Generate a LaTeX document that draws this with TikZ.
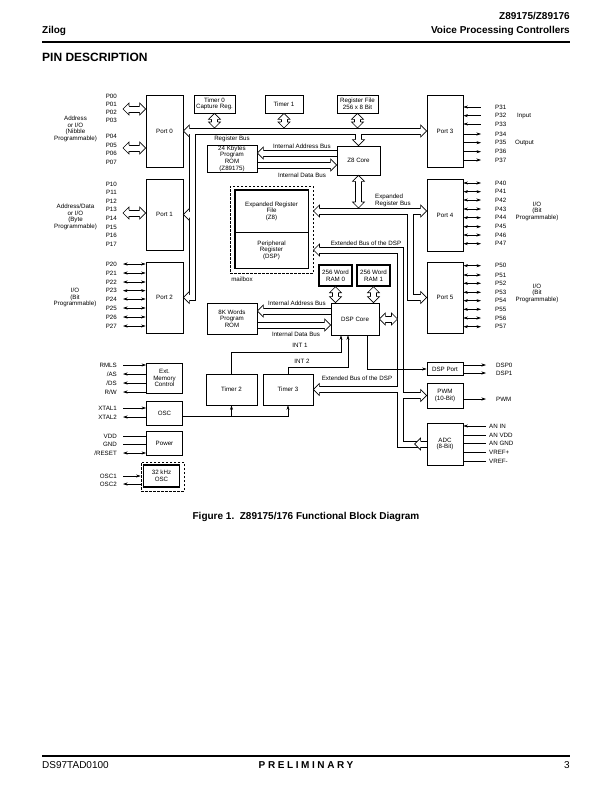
\documentclass[tikz,border=0pt]{standalone}
\usepackage{fontspec}
\setmainfont{Liberation Sans}
\usetikzlibrary{arrows.meta,calc}
\newcommand\dfont{\fontsize{6.2}{6.6}\selectfont}
\tikzset{
  every picture/.style={line join=miter, >={Stealth[length=4.5pt,width=3pt]}},
  blk/.style={draw, line width=0.8pt, align=center, inner sep=0pt, font=\dfont},
  heavyblk/.style={blk, line width=1.4pt},
  lbl/.style={inner sep=0pt, align=center, font=\dfont},
  pinlbl/.style={inner sep=0pt, font=\dfont},
  wire/.style={line width=0.5pt},
  busline/.style={line width=0.6pt},
  dashbox/.style={draw, dash pattern=on 2.5pt off 1.5pt, line width=0.9pt},
  bushead/.pic={\draw[line width=0.6pt, fill=white] (-6,3) -- (-6,6) -- (0,0) -- (-6,-6) -- (-6,-3);},
}

\begin{document}
\begin{tikzpicture}[x=1pt,y=-1pt]
\useasboundingbox (0,0) rectangle (612,792);

% page header
\node[anchor=base west, inner sep=0pt, font=\bfseries\fontsize{10}{12}\selectfont] (brand) at (42,34) {Zilog};
\node[anchor=base east, inner sep=0pt, font=\bfseries\fontsize{10}{12}\selectfont] (partno) at (570,20) {Z89175/Z89176};
\node[anchor=base east, inner sep=0pt, font=\bfseries\fontsize{10}{12}\selectfont] (series) at (570,34) {Voice Processing Controllers};
\draw[line width=2pt] (42,42) -- (570,42);
\node[anchor=base west, inner sep=0pt, font=\bfseries\fontsize{12}{14}\selectfont] (section) at (42,62) {PIN DESCRIPTION};

% blocks
\node[blk, minimum width=37pt, minimum height=72pt] (port0) at (164.5,131) {Port 0};
\node[blk, minimum width=37pt, minimum height=71pt] (port1) at (164.5,214.5) {Port 1};
\node[blk, minimum width=37pt, minimum height=71pt] (port2) at (164.5,297.5) {Port 2};
\node[blk, minimum width=36pt, minimum height=72pt] (port3) at (445,131) {Port 3};
\node[blk, minimum width=36pt, minimum height=72pt] (port4) at (445,215) {Port 4};
\node[blk, minimum width=36pt, minimum height=71pt] (port5) at (445,297.5) {Port 5};
\node[blk, minimum width=41pt, minimum height=18pt] (tmrzero) at (214.5,104) {Timer 0\\Capture Reg.};
\node[blk, minimum width=38pt, minimum height=18pt] (tmrone) at (284,104) {Timer 1};
\node[blk, minimum width=41pt, minimum height=18pt] (regfile) at (357.5,104) {Register File\\256 x 8 Bit};
\node[blk, minimum width=43pt, minimum height=29pt] (zcore) at (358.5,160.5) {Z8 Core};
\node[blk, minimum width=50pt, minimum height=27pt] (kbrom) at (232,158.5) {24 Kbytes\\Program\\ROM\\(Z89175)};
\node[lbl, minimum width=73pt, minimum height=42pt] (erf) at (271.5,211) {Expanded Register\\File\\(Z8)};
\node[lbl, minimum width=73pt, minimum height=36pt] (prf) at (271.5,250) {Peripheral\\Register\\(DSP)};
\draw[line width=1.4pt] (erf.north west) rectangle (prf.south east);
\draw[line width=0.6pt] (erf.south west) -- (erf.south east);
\node[dashbox, minimum width=83pt, minimum height=87pt] (mailbox) at (271.5,229.5) {};
\node[lbl] (mbxlbl) at (242,279) {mailbox};
\node[heavyblk, minimum width=33pt, minimum height=21pt] (ramzero) at (335.5,275.5) {256 Word\\RAM 0};
\node[heavyblk, minimum width=33pt, minimum height=21pt] (ramone) at (373.5,275.5) {256 Word\\RAM 1};
\node[blk, minimum width=48pt, minimum height=32pt] (dspcore) at (355,319) {DSP Core};
\node[blk, minimum width=50pt, minimum height=31pt] (wrom) at (232,318.5) {8K Words\\Program\\ROM};
\node[blk, minimum width=51pt, minimum height=31pt] (tmrtwo) at (231.5,389.5) {Timer 2};
\node[blk, minimum width=50pt, minimum height=31pt] (tmrthree) at (288,389.5) {Timer 3};
\node[blk, minimum width=36pt, minimum height=30pt] (extmem) at (164.5,378) {Ext.\\Memory\\Control};
\node[blk, minimum width=36pt, minimum height=24pt] (osc) at (164.5,413) {OSC};
\node[blk, minimum width=36pt, minimum height=24pt] (power) at (164.5,443) {Power};
\node[heavyblk, minimum width=36pt, minimum height=22pt] (osck) at (161.5,476) {32 kHz\\OSC};
\node[dashbox, minimum width=43pt, minimum height=29pt] (osckbox) at (162.5,476.5) {};
\node[blk, minimum width=36pt, minimum height=13pt] (dspport) at (445,369) {DSP Port};
\node[blk, minimum width=36pt, minimum height=25pt] (pwm) at (445,395.5) {PWM\\(10-Bit)};
\node[blk, minimum width=36pt, minimum height=42pt] (adc) at (445,444) {ADC\\(8-Bit)};

% bus reference points
\coordinate (rbtop) at (0,128);
\coordinate (ebtop) at (0,208);
\coordinate (iab) at (0,153);
\coordinate (idb) at (0,165);
\coordinate (dab) at (0,311);
\coordinate (ddb) at (0,325);
\coordinate (xbusl) at (397.5,0);
\coordinate (pzA) at (123,109);
\coordinate (pzB) at (123,148);
\coordinate (poA) at (123,213);
\coordinate (adctip) at ($(adc.west)+(-12,0)$);

% register bus with branches to port 1, port 2 and Z8 core
\draw[busline] (189,128) -- (421,128)
  (195,134) -- (355.5,134) -- (355.5,140)
  (361.5,140) -- (361.5,134) -- (421,134)
  (189,134) -- (189,211.5) (189,217.5) -- (189,294.5)
  (195,134) -- (195,300.5) -- (189,300.5);
% expanded register bus with branch to port 5
\draw[busline] (319,208) -- (421,208)
  (319,214) -- (407.5,214) -- (407.5,300.5) -- (421,300.5)
  (421,214) -- (413.5,214) -- (413.5,294.5) -- (421,294.5);
% extended bus of the DSP
\draw[busline] (319,253) -- (397.5,253) -- (397.5,386.5) -- (319,386.5)
  (319,392.5) -- (397.5,392.5) -- (397.5,447) -- (427,447)
  (319,247) -- (403.5,247) -- (403.5,392.5) -- (421,392.5)
  (421,398.5) -- (403.5,398.5) -- (403.5,441) -- (427,441);
% internal address and data buses
\draw[busline] (263,150) -- (337,150) (263,156) -- (337,156)
  (257,162) -- (331,162) (257,168) -- (331,168)
  (263,308) -- (331,308) (263,314) -- (331,314)
  (257,322) -- (325,322) (257,328) -- (325,328);
% short two-way bus links
\draw[busline] (211.5,119) -- (211.5,122) (217.5,119) -- (217.5,122)
  (281,119) -- (281,122) (287,119) -- (287,122)
  (354.5,119) -- (354.5,122) (360.5,119) -- (360.5,122)
  (355.5,181) -- (355.5,202) (361.5,181) -- (361.5,202)
  (332.5,292) -- (332.5,297) (338.5,292) -- (338.5,297)
  (370.5,292) -- (370.5,297) (376.5,292) -- (376.5,297)
  (385,316) -- (391.5,316) (385,322) -- (391.5,322)
  (129,106) -- (140,106) (129,112) -- (140,112)
  (129,145) -- (140,145) (129,151) -- (140,151)
  (129,210) -- (140,210) (129,216) -- (140,216);

% bus heads
\foreach \tip/\ang in {port0.east/180, port3.west/0, port1.east/180, port2.east/180,
    zcore.north/-90, port4.west |- erf/0, mailbox.east |- erf/180, mailbox.east |- prf/180,
    port5.west/0, tmrthree.east/180, pwm.west/0, adctip/180,
    kbrom.east |- iab/180, zcore.west |- idb/0, wrom.east |- dab/180, dspcore.west |- ddb/0,
    tmrzero.south/90, tmrzero.south |- rbtop/-90, tmrone.south/90, tmrone.south |- rbtop/-90,
    regfile.south/90, regfile.south |- rbtop/-90, zcore.south/90, zcore.south |- ebtop/-90,
    ramzero.south/90, ramzero.south |- dspcore.north/-90, ramone.south/90, ramone.south |- dspcore.north/-90,
    dspcore.east/180, dspcore.east -| xbusl/0,
    pzA/180, port0.west |- pzA/0, pzB/180, port0.west |- pzB/0, poA/180, port1.west |- poA/0}
  \pic[rotate=\ang] at (\tip) {bushead};

% bus labels
\node[lbl] (rbuslbl) at (232,139) {Register Bus};
\node[lbl] (iablbl) at (302,146.5) {Internal Address Bus};
\node[lbl] (idblbl) at (302,175) {Internal Data Bus};
\node[lbl, align=left, anchor=west] (erblbl) at (375,200.5) {Expanded\\Register Bus};
\node[lbl] (xbuslbl) at (366,243) {Extended Bus of the DSP};
\node[lbl] (dablbl) at (297,303.5) {Internal Address Bus};
\node[lbl] (ddblbl) at (296,334) {Internal Data Bus};
\node[lbl] (xbuslbltwo) at (357,378) {Extended Bus of the DSP};
\node[lbl] (intonelbl) at (300,345) {INT 1};
\node[lbl] (inttwolbl) at (302,361) {INT 2};

% interrupts, clock, DSP port
\coordinate (intone) at (341,352);
\coordinate (inttwo) at (348,367);
\coordinate (dspout) at (367,0);
\coordinate (clk) at (0,416);
\draw[wire,->] (tmrtwo.north) |- (intone) -- (intone |- dspcore.south);
\draw[wire,->] (tmrthree.north) |- (inttwo) -- (inttwo |- dspcore.south);
\draw[wire,->] (dspout |- dspcore.south) |- (dspport.west);
\draw[wire,->] (osc.east |- clk) -| (tmrthree.south);
\draw[wire,->] (tmrtwo.south |- clk) -- (tmrtwo.south);

% port 0 and port 1 pins
\foreach \n/\y in {00/96,01/104.3,02/112,03/120.5,04/136.7,05/145,06/153.7,07/162,
    10/184,11/192.7,12/201,13/209.7,14/218.3,15/227,16/235.7,17/244}
  \node[pinlbl, anchor=east] (pP\n) at (117,\y) {P\n};
\node[lbl] (grpzero) at (75.5,129) {Address\\or I/O\\(Nibble\\Programmable)};
\node[lbl] (grpone) at (75.5,217) {Address/Data\\or I/O\\(Byte\\Programmable)};

% port 2 pins
\foreach \n/\y in {20/264,21/273,22/282,23/290.7,24/299,25/308,26/317,27/326} {
  \node[pinlbl, anchor=east] (pP\n) at (117,\y) {P\n};
  \draw[wire,<->] ($(pP\n.east)+(6,0)$) -- (port2.west |- pP\n);
}
\node[lbl] (grptwo) at (75,297.5) {I/O\\(Bit\\Programmable)};

% port 3 pins
\foreach \n/\y in {31/107,32/115.7,33/124} {
  \node[pinlbl, anchor=west] (pP\n) at (495,\y) {P\n};
  \draw[wire,<-] (port3.east |- pP\n) -- ($(pP\n.west)+(-14,0)$);
}
\foreach \n/\y in {34/134,35/142.7,36/151.7,37/160} {
  \node[pinlbl, anchor=west] (pP\n) at (495,\y) {P\n};
  \draw[wire,->] (port3.east |- pP\n) -- ($(pP\n.west)+(-14,0)$);
}
\node[pinlbl, anchor=west] (inlbl) at (517,115.7) {Input};
\node[pinlbl, anchor=west] (outlbl) at (515,142.7) {Output};

% port 4 and port 5 pins
\foreach \n/\y in {40/183,41/191.7,42/200,43/209,44/217.7,45/226.7,46/235,47/243.7} {
  \node[pinlbl, anchor=west] (pP\n) at (495,\y) {P\n};
  \draw[wire,<->] (port4.east |- pP\n) -- ($(pP\n.west)+(-14,0)$);
}
\foreach \n/\y in {50/265.7,51/275,52/283.3,53/292.3,54/300.7,55/309.3,56/318,57/326.7} {
  \node[pinlbl, anchor=west] (pP\n) at (495,\y) {P\n};
  \draw[wire,<->] (port5.east |- pP\n) -- ($(pP\n.west)+(-14,0)$);
}
\node[lbl] (grpfour) at (537,211) {I/O\\(Bit\\Programmable)};
\node[lbl] (grpfive) at (537,293) {I/O\\(Bit\\Programmable)};

% control pins
\node[pinlbl, anchor=east] (pRMLS) at (117,365) {RMLS};
\node[pinlbl, anchor=east] (pAS) at (117,374) {/AS};
\node[pinlbl, anchor=east] (pDS) at (117,383) {/DS};
\node[pinlbl, anchor=east] (pRW) at (117,392) {R/W};
\node[pinlbl, anchor=east] (pXa) at (117,408) {XTAL1};
\node[pinlbl, anchor=east] (pXb) at (117,417) {XTAL2};
\node[pinlbl, anchor=east] (pVDD) at (117,436) {VDD};
\node[pinlbl, anchor=east] (pGND) at (117,444) {GND};
\node[pinlbl, anchor=east] (pRST) at (117,453) {/RESET};
\node[pinlbl, anchor=east] (pOa) at (117,476) {OSC1};
\node[pinlbl, anchor=east] (pOb) at (117,484) {OSC2};
\draw[wire,->] ($(pRMLS.east)+(6,0)$) -- (extmem.west |- pRMLS);
\draw[wire,<-] ($(pAS.east)+(6,0)$) -- (extmem.west |- pAS);
\draw[wire,<-] ($(pDS.east)+(6,0)$) -- (extmem.west |- pDS);
\draw[wire,<-] ($(pRW.east)+(6,0)$) -- (extmem.west |- pRW);
\draw[wire,->] ($(pXa.east)+(6,0)$) -- (osc.west |- pXa);
\draw[wire,<-] ($(pXb.east)+(6,0)$) -- (osc.west |- pXb);
\draw[wire] ($(pVDD.east)+(6,0)$) -- (power.west |- pVDD);
\draw[wire] ($(pGND.east)+(6,0)$) -- (power.west |- pGND);
\draw[wire,<->] ($(pRST.east)+(6,0)$) -- (power.west |- pRST);
\draw[wire,->] ($(pOa.east)+(6,0)$) -- (osckbox.west |- pOa);
\draw[wire,<-] ($(pOb.east)+(6,0)$) -- (osckbox.west |- pOb);

% DSP port, PWM, ADC pins
\node[pinlbl, anchor=west] (pDSPa) at (496,365) {DSP0};
\node[pinlbl, anchor=west] (pDSPb) at (496,373) {DSP1};
\node[pinlbl, anchor=west] (pPWM) at (496,399) {PWM};
\draw[wire,->] (dspport.east |- pDSPa) -- ($(pDSPa.west)+(-10,0)$);
\draw[wire,->] (dspport.east |- pDSPb) -- ($(pDSPb.west)+(-10,0)$);
\draw[wire,->] (pwm.east |- pPWM) -- ($(pPWM.west)+(-10,0)$);
\node[pinlbl, anchor=west] (pANa) at (489,426) {AN IN};
\node[pinlbl, anchor=west] (pANb) at (489,435) {AN VDD};
\node[pinlbl, anchor=west] (pANc) at (489,443) {AN GND};
\node[pinlbl, anchor=west] (pANd) at (489,452) {VREF+};
\node[pinlbl, anchor=west] (pANe) at (489,461) {VREF-};
\draw[wire,<-] (adc.east |- pANa) -- ($(pANa.west)+(-3,0)$);
\draw[wire] (adc.east |- pANb) -- ($(pANb.west)+(-3,0)$);
\draw[wire] (adc.east |- pANc) -- ($(pANc.west)+(-3,0)$);
\draw[wire] (adc.east |- pANd) -- ($(pANd.west)+(-3,0)$);
\draw[wire] (adc.east |- pANe) -- ($(pANe.west)+(-3,0)$);

% caption and footer
\node[anchor=base, inner sep=0pt, font=\bfseries\fontsize{10}{12}\selectfont] (caption) at (306,519) {Figure 1.\ \ Z89175/176 Functional Block Diagram};
\draw[line width=1.8pt] (42,756) -- (570,756);
\node[anchor=base west, inner sep=0pt, font=\fontsize{10}{12}\selectfont] (docid) at (42,768) {DS97TAD0100};
\node[anchor=base, inner sep=0pt, font={\bfseries\fontsize{10}{12}\selectfont\addfontfeature{LetterSpace=26}}] (status) at (306,768) {PRELIMINARY};
\node[anchor=base east, inner sep=0pt, font=\fontsize{10}{12}\selectfont] (pageno) at (570,768) {3};
\end{tikzpicture}
\end{document}
